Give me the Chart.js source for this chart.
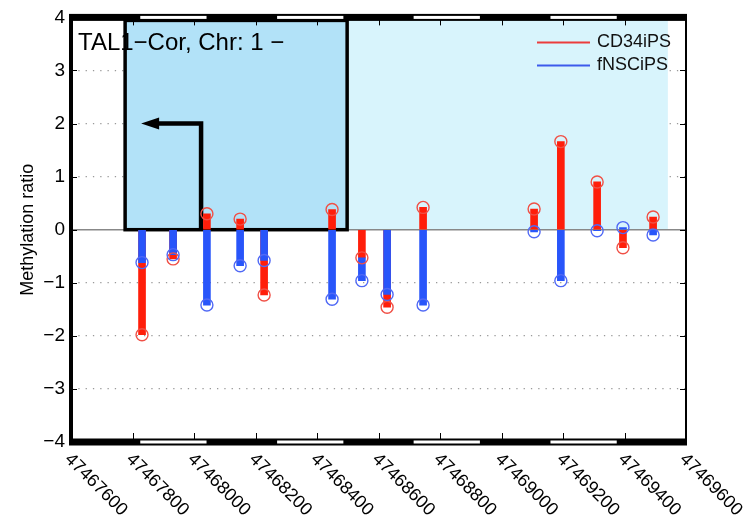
<!DOCTYPE html>
<html>
<head>
<meta charset="utf-8">
<script src="https://cdn.jsdelivr.net/npm/chart.js@4/dist/chart.umd.min.js"></script>
<style>
  html, body { margin: 0; padding: 0; background: #fff; }
  #wrap { width: 750px; height: 519px; }
</style>
</head>
<body>
<div id="wrap"><canvas id="meth-chart" width="750" height="519"></canvas></div>
<script>
// CpG positions and methylation ratios
const positions = [47467831, 47467932, 47468042, 47468150, 47468228, 47468449, 47468546,
                   47468628, 47468745, 47469106, 47469193, 47469311, 47469395, 47469493];
const cd34iPS = [-1.98, -0.55, 0.30, 0.20, -1.23, 0.38, -0.53, -1.46, 0.42, 0.39, 1.66, 0.90, -0.34, 0.24];
const fNSCiPS = [-0.62, -0.47, -1.42, -0.68, -0.58, -1.31, -0.96, -1.22, -1.42, -0.04, -0.96, -0.02, 0.04, -0.10];

const xTicks = [47467600, 47467800, 47468000, 47468200, 47468400, 47468600,
                47468800, 47469000, 47469200, 47469400, 47469600];
const yTicks = [-4, -3, -2, -1, 0, 1, 2, 3, 4];

// chromosome band pattern on top/bottom axis
const bandEdges = [47467600, 47467822, 47468044, 47468267, 47468489, 47468711,
                   47468933, 47469156, 47469378, 47469600];

// annotated regions
const lightRegion = [47467776, 47469541];
const geneRegion = [47467776, 47468498];
const tssArrow = [47468023, 47467828, 2]; // stem x, tip x, height

const RED = 'rgb(255, 30, 10)';
const BLUE = 'rgb(40, 85, 250)';
const FONT = '"Liberation Sans", Arial, Helvetica, sans-serif';

// red stems full length, blue stems drawn over; if blue is longer on the same side
// only draw the part beyond the red one so the shorter stem stays visible
const redBars = positions.map((x, i) => ({ x, y: [0, cd34iPS[i]] }));
const blueBars = positions.map((x, i) => {
  const r = cd34iPS[i], b = fNSCiPS[i];
  const start = (r * b > 0 && Math.abs(b) > Math.abs(r)) ? r : 0;
  return { x, y: [start, b] };
});

const decorations = {
  id: 'decorations',
  beforeDatasetsDraw(chart) {
    const { ctx, chartArea: a, scales: { x, y } } = chart;
    ctx.save();
    // light shaded region
    ctx.fillStyle = 'rgb(216, 244, 252)';
    ctx.fillRect(x.getPixelForValue(lightRegion[0]), y.getPixelForValue(4),
      x.getPixelForValue(lightRegion[1]) - x.getPixelForValue(lightRegion[0]),
      y.getPixelForValue(0) - y.getPixelForValue(4));
    // zero line
    ctx.strokeStyle = '#888';
    ctx.lineWidth = 1.5;
    ctx.beginPath();
    ctx.moveTo(a.left, y.getPixelForValue(0));
    ctx.lineTo(a.right, y.getPixelForValue(0));
    ctx.stroke();
    // gene box
    const gx0 = x.getPixelForValue(geneRegion[0]);
    const gx1 = x.getPixelForValue(geneRegion[1]);
    const gy0 = y.getPixelForValue(4) + 3;
    const gy1 = y.getPixelForValue(0);
    ctx.fillStyle = 'rgb(178, 226, 248)';
    ctx.fillRect(gx0, gy0, gx1 - gx0, gy1 - gy0);
    ctx.strokeStyle = '#000';
    ctx.lineWidth = 3.5;
    ctx.strokeRect(gx0, gy0, gx1 - gx0, gy1 - gy0);
    // TSS arrow
    const ax = x.getPixelForValue(tssArrow[0]);
    const tx = x.getPixelForValue(tssArrow[1]);
    const ay = y.getPixelForValue(tssArrow[2]);
    ctx.lineWidth = 4.5;
    ctx.lineJoin = 'miter';
    ctx.beginPath();
    ctx.moveTo(ax, gy1);
    ctx.lineTo(ax, ay);
    ctx.lineTo(tx + 14, ay);
    ctx.stroke();
    ctx.fillStyle = '#000';
    ctx.beginPath();
    ctx.moveTo(tx, ay);
    ctx.lineTo(tx + 18, ay - 6);
    ctx.lineTo(tx + 18, ay + 6);
    ctx.closePath();
    ctx.fill();
    ctx.restore();
  },
  afterDraw(chart) {
    const { ctx, chartArea: a, scales: { x, y } } = chart;
    ctx.save();
    // left / right frame
    ctx.strokeStyle = '#000';
    ctx.lineWidth = 4;
    ctx.beginPath();
    ctx.moveTo(a.left, a.top);
    ctx.lineTo(a.left, a.bottom);
    ctx.stroke();
    ctx.lineWidth = 2;
    ctx.beginPath();
    ctx.moveTo(a.right, a.top);
    ctx.lineTo(a.right, a.bottom);
    ctx.stroke();
    // tick marks
    ctx.lineWidth = 1;
    xTicks.forEach(v => {
      const px = Math.round(x.getPixelForValue(v)) + 0.5;
      ctx.beginPath();
      ctx.moveTo(px, a.bottom); ctx.lineTo(px, a.bottom - 9);
      ctx.moveTo(px, a.top); ctx.lineTo(px, a.top + 8);
      ctx.stroke();
    });
    yTicks.forEach(v => {
      const py = Math.round(y.getPixelForValue(v)) + 0.5;
      ctx.beginPath();
      ctx.moveTo(a.left, py); ctx.lineTo(a.left + 6, py);
      ctx.moveTo(a.right, py); ctx.lineTo(a.right - 6, py);
      ctx.stroke();
    });
    // banded top / bottom axes
    [a.top, a.bottom].forEach(py => {
      ctx.fillStyle = '#000';
      ctx.fillRect(a.left - 2, py - 3.5, a.right - a.left + 3, 7);
      ctx.fillStyle = '#fff';
      for (let i = 1; i < bandEdges.length - 1; i += 2) {
        const x0 = x.getPixelForValue(bandEdges[i]);
        const x1 = x.getPixelForValue(bandEdges[i + 1]);
        ctx.fillRect(x0 + 1, py - 1.5, x1 - x0 - 2, 3);
      }
    });
    // rotated x tick labels
    ctx.fillStyle = '#000';
    ctx.font = '18px ' + FONT;
    ctx.textAlign = 'left';
    ctx.textBaseline = 'top';
    xTicks.forEach(v => {
      ctx.save();
      ctx.translate(x.getPixelForValue(v) + 3, a.bottom + 8);
      ctx.rotate(Math.PI / 4);
      ctx.fillText(String(v), 0, 0);
      ctx.restore();
    });
    // title
    ctx.font = '24px ' + FONT;
    ctx.textBaseline = 'alphabetic';
    ctx.fillText('TAL1\u2212Cor, Chr: 1 \u2212', a.left + 7, a.top + 33);
    // legend
    const items = [['CD34iPS', 'rgb(235, 60, 60)'], ['fNSCiPS', 'rgb(60, 90, 235)']];
    ctx.font = '18px ' + FONT;
    ctx.textBaseline = 'middle';
    items.forEach(([label, color], i) => {
      const ly = a.top + 25 + i * 23;
      ctx.strokeStyle = color;
      ctx.lineWidth = 2;
      ctx.beginPath();
      ctx.moveTo(537, ly); ctx.lineTo(590, ly);
      ctx.stroke();
      ctx.fillStyle = '#111';
      ctx.fillText(label, 597, ly);
    });
    ctx.restore();
  }
};

const ctx = document.getElementById('meth-chart').getContext('2d');
const methChart = new Chart(ctx, {
  type: 'bar',
  data: {
    datasets: [
      {
        type: 'scatter',
        label: 'fNSCiPS',
        data: positions.map((x, i) => ({ x, y: fNSCiPS[i] })),
        pointRadius: 6,
        pointBorderWidth: 1.4,
        pointBackgroundColor: 'rgba(0,0,0,0)',
        pointBorderColor: 'rgb(80, 105, 245)',
        order: 0,
      },
      {
        type: 'scatter',
        label: 'CD34iPS',
        data: positions.map((x, i) => ({ x, y: cd34iPS[i] })),
        pointRadius: 6,
        pointBorderWidth: 1.4,
        pointBackgroundColor: 'rgba(0,0,0,0)',
        pointBorderColor: 'rgb(240, 80, 70)',
        order: 1,
      },
      {
        label: 'fNSCiPS stem',
        data: blueBars,
        backgroundColor: BLUE,
        borderWidth: 0,
        barThickness: 7,
        grouped: false,
        order: 2,
      },
      {
        label: 'CD34iPS stem',
        data: redBars,
        backgroundColor: RED,
        borderWidth: 0,
        barThickness: 7,
        grouped: false,
        order: 3,
      },
    ],
  },
  options: {
    responsive: false,
    animation: false,
    layout: { padding: { top: 14, right: 64, left: 0, bottom: 0 } },
    plugins: {
      legend: { display: false },
      tooltip: { enabled: false },
    },
    scales: {
      x: {
        type: 'linear',
        min: 47467600,
        max: 47469600,
        offset: false,
        stacked: false,
        ticks: { display: false },
        grid: { display: false },
        border: { display: false },
        afterFit: (s) => { s.height = 77; },
      },
      y: {
        min: -4,
        max: 4,
        stacked: false,
        ticks: {
          stepSize: 1,
          padding: 6,
          color: '#000',
          font: { family: FONT, size: 19 },
          callback: (v) => String(v).replace('-', '\u2212'),
        },
        grid: {
          drawTicks: false,
          lineWidth: 1.3,
          color: (c) => (Math.abs(c.tick.value) === 4 || c.tick.value === 0) ? 'rgba(0,0,0,0)' : '#999',
        },
        border: { display: false, dash: [1.3, 6] },
        title: {
          display: true,
          text: 'Methylation ratio',
          color: '#000',
          font: { family: FONT, size: 18 },
          padding: { top: 17, bottom: 0 },
        },
        afterFit: (s) => { s.width = 71; },
      },
    },
  },
  plugins: [decorations],
});
</script>
</body>
</html>
